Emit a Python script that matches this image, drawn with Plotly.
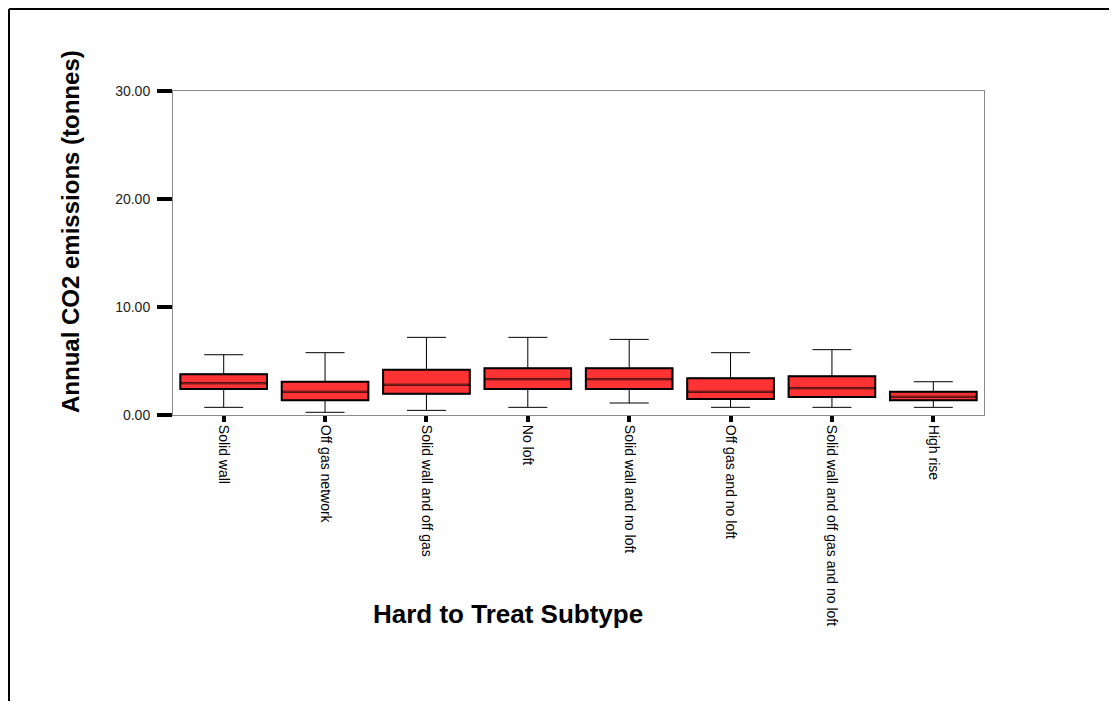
import plotly.graph_objects as go

categories = ["Solid wall", "Off gas network", "Solid wall and off gas", "No loft",
              "Solid wall and no loft", "Off gas and no loft",
              "Solid wall and off gas and no loft", "High rise"]
lower_whisker = [0.71, 0.25, 0.43, 0.71, 1.11, 0.71, 0.71, 0.71]
q1_vals = [2.41, 1.36, 1.97, 2.41, 2.41, 1.48, 1.67, 1.36]
median_vals = [2.93, 2.16, 2.81, 3.30, 3.30, 2.16, 2.47, 1.70]
q3_vals = [3.77, 3.08, 4.20, 4.32, 4.32, 3.40, 3.58, 2.16]
upper_whisker = [5.58, 5.77, 7.19, 7.19, 7.00, 5.77, 6.05, 3.08]
y_ticks = [0, 10, 20, 30]

FONT = "Arial, Liberation Sans, sans-serif"
RED = "#ff3333"
BOXW = 0.855
WHW = 0.45

fig = go.Figure()
# whiskers
fig.add_trace(go.Box(
    x=categories, q1=q1_vals, median=median_vals, q3=q3_vals,
    lowerfence=lower_whisker, upperfence=upper_whisker,
    width=BOXW, whiskerwidth=WHW, fillcolor=RED,
    line=dict(color="black", width=1), boxpoints=False,
    showlegend=False, hoverinfo="skip"))
# box outline
fig.add_trace(go.Box(
    x=categories, q1=q1_vals, median=median_vals, q3=q3_vals,
    lowerfence=q1_vals, upperfence=q3_vals,
    width=BOXW, whiskerwidth=0, fillcolor=RED,
    line=dict(color="black", width=2), boxpoints=False,
    showlegend=False, hoverinfo="skip"))
# median line
fig.add_trace(go.Box(
    x=categories, q1=median_vals, median=median_vals, q3=median_vals,
    lowerfence=median_vals, upperfence=median_vals,
    width=BOXW * 0.97, whiskerwidth=0, fillcolor="rgba(0,0,0,0)",
    line=dict(color="#7a1a1a", width=1.5), boxpoints=False,
    showlegend=False, hoverinfo="skip"))

OFF = 8  # page body margin
W, H = 1117 - 2 * OFF, 709 - 2 * OFF
L, T = 173 - OFF, 91 - OFF
pw, ph = 811, 324
R = W - L - pw
B = H - T - ph


def px(xp):
    return (xp - OFF - L) / pw


def py(yp):
    return (T + ph - (yp - OFF)) / ph


fig.update_layout(
    width=W, height=H,
    margin=dict(l=L, r=R, t=T, b=B, autoexpand=False),
    paper_bgcolor="white", plot_bgcolor="white",
    font=dict(family=FONT, color="black"),
    boxmode="overlay",
    xaxis=dict(type="category", range=[-0.5, 7.5], showline=True, linecolor="#8c8c8c",
               linewidth=1, mirror=True, ticks="outside", ticklen=6, tickwidth=4,
               tickcolor="black", tickangle=90, tickfont=dict(size=14, family=FONT, color="black"),
               showgrid=False, zeroline=False),
    yaxis=dict(range=[0, 30], tickvals=y_ticks, tickformat=".2f", showline=True,
               linecolor="#8c8c8c", linewidth=1, mirror=True, ticks="outside",
               ticklen=15, tickwidth=4, tickcolor="black", ticklabelstandoff=4,
               tickfont=dict(size=14, family=FONT, color="#222222"),
               showgrid=False, zeroline=False),
    annotations=[
        dict(text="<b>Annual CO2 emissions (tonnes)</b>", xref="paper", yref="paper",
             x=px(70), y=py(232), textangle=-90, showarrow=False,
             xanchor="center", yanchor="middle", font=dict(size=24, family=FONT, color="black")),
        dict(text="<b>Hard to Treat Subtype</b>", xref="paper", yref="paper",
             x=px(508), y=py(614), showarrow=False,
             xanchor="center", yanchor="middle", font=dict(size=26, family=FONT, color="black")),
    ],
    shapes=[
        dict(type="line", xref="paper", yref="paper", x0=px(9), x1=px(9),
             y0=py(9), y1=-3, line=dict(color="black", width=2)),
        dict(type="line", xref="paper", yref="paper", x0=px(9), x1=3,
             y0=py(9), y1=py(9), line=dict(color="black", width=2)),
    ],
)

fig.write_html("out.html")
